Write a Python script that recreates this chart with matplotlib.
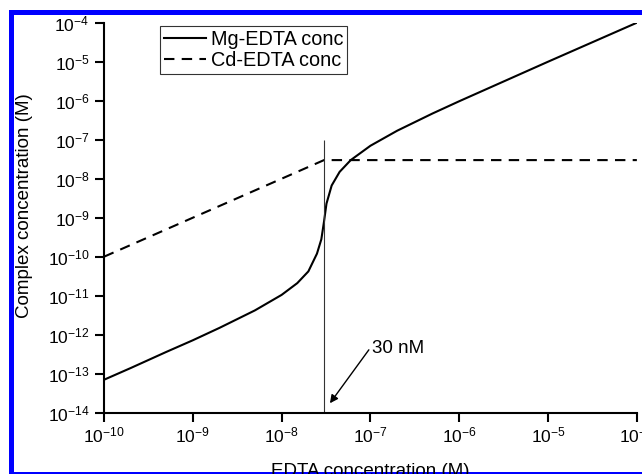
import matplotlib
matplotlib.use('Agg')
import matplotlib.pyplot as plt
from matplotlib.patches import Rectangle
from matplotlib.ticker import LogLocator, NullLocator

plt.rcParams['font.family'] = ['Liberation Sans', 'DejaVu Sans']
plt.rcParams['mathtext.fontset'] = 'custom'
plt.rcParams['mathtext.rm'] = 'Liberation Sans'
plt.rcParams['mathtext.it'] = 'Liberation Sans:italic'
plt.rcParams['mathtext.bf'] = 'Liberation Sans:bold'

# Dữ liệu
edta_mg = [1e-10, 2e-10, 5e-10, 1e-9, 2e-9, 5e-9, 1e-8, 1.5e-8, 2e-8, 2.5e-8,
           2.8e-8, 3e-8, 3.2e-8, 3.66e-8, 4.5e-8, 6e-8, 1e-7, 2e-7, 5e-7,
           1e-6, 1e-5, 1e-4]
mg_edta = [7.0e-14, 1.4e-13, 3.6e-13, 7.2e-13, 1.5e-12, 4.2e-12, 1.05e-11,
           2.1e-11, 4.2e-11, 1.2e-10, 2.8e-10, 7.9e-10, 2.3e-9, 6.7e-9, 1.5e-8,
           3.0e-8, 7.0e-8, 1.7e-7, 4.7e-7, 9.7e-7, 1.0e-5, 1.0e-4]

edta_cd = [1e-10, 3e-8, 1e-4]
cd_edta = [1e-10, 3e-8, 3e-8]

labels = ['Mg-EDTA conc', 'Cd-EDTA conc']

cd_total = 3e-8          # đường đứng 30 nM
vline_top = 1e-7
note_text = '30 nM'
note_xy = (3.5e-8, 1.75e-14)
note_tail = (9.6e-8, 4.1e-13)
note_pos = (1.04e-7, 3.3e-13)

xlim = (1e-10, 1e-4)
ylim = (1e-14, 1e-4)

fig = plt.figure(figsize=(6.42, 4.74), dpi=100)
ax = fig.add_axes([0.162, 0.1293, 0.830, 0.8228])

ax.plot(edta_mg, mg_edta, color='k', lw=1.5, label=labels[0])
ax.plot(edta_cd, cd_edta, color='k', lw=1.5, dashes=(5, 3.5), label=labels[1])
ax.vlines(cd_total, ylim[0], vline_top, color='#333333', lw=0.8)

ax.annotate('', xy=note_xy, xytext=note_tail,
            arrowprops=dict(arrowstyle='-|>', color='k', lw=1.0,
                            mutation_scale=12, shrinkA=0, shrinkB=0))
ax.text(note_pos[0], note_pos[1], note_text, fontsize=13.5, ha='left', va='baseline')

ax.set_xscale('log')
ax.set_yscale('log')
ax.set_xlim(xlim)
ax.set_ylim(ylim)
ax.xaxis.set_major_locator(LogLocator(base=10, numticks=20))
ax.yaxis.set_major_locator(LogLocator(base=10, numticks=20))
ax.xaxis.set_minor_locator(NullLocator())
ax.yaxis.set_minor_locator(NullLocator())

for s in ['top', 'right']:
    ax.spines[s].set_visible(False)
for s in ['left', 'bottom']:
    ax.spines[s].set_linewidth(1.5)
ax.tick_params(direction='out', length=6.5, width=1.5, labelsize=12.5)
ax.tick_params(axis='x', pad=3)
ax.tick_params(axis='y', pad=4)

ax.set_xlabel('EDTA concentration (M)', fontsize=13.5)
ax.set_ylabel('Complex concentration (M)', fontsize=13.5)
ax.xaxis.set_label_coords(0.5, -0.13)
ax.yaxis.set_label_coords(-0.133, 0.53)

leg = ax.legend(loc='upper left', bbox_to_anchor=(0.105, 0.9915), borderaxespad=0,
                fontsize=14.3, frameon=True, fancybox=False, handlelength=2.1,
                handletextpad=0.25, labelspacing=0.12, borderpad=0.2)
leg.get_frame().set_edgecolor('k')
leg.get_frame().set_linewidth(0.8)

# khung xanh quanh hình
fig.add_artist(Rectangle((0.0179, -0.001), 1.1, 0.9767, transform=fig.transFigure,
                         fill=False, edgecolor='#0000ff', lw=3.6, zorder=-1))

plt.savefig('out.png', dpi=100)
